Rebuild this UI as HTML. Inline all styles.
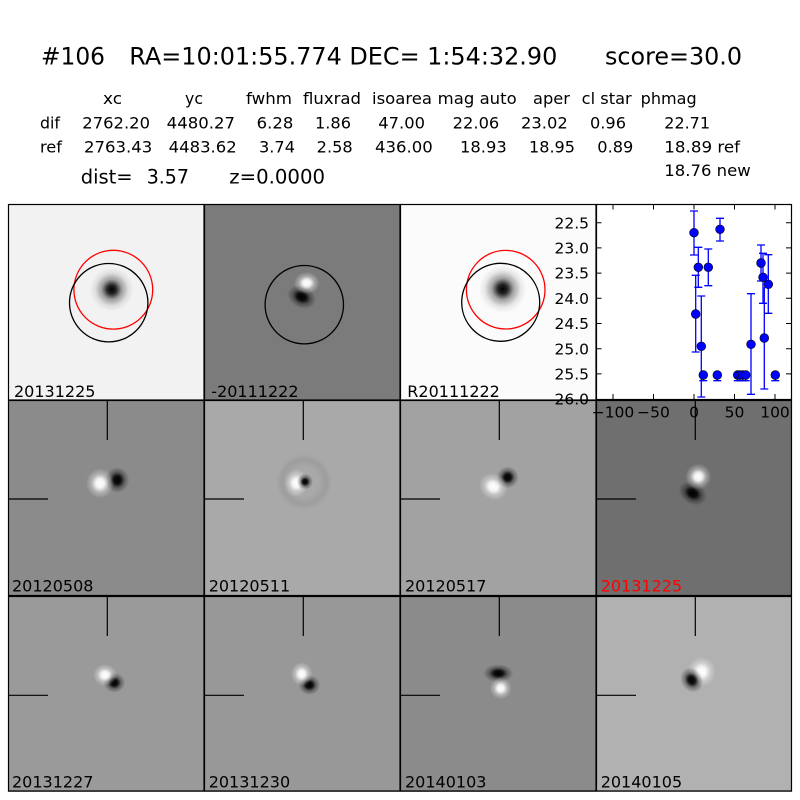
<!DOCTYPE html>
<html><head><meta charset="utf-8"><style>
html,body{margin:0;padding:0;background:#fff;}
svg{display:block;}
text{font-family:"DejaVu Sans","Liberation Sans",sans-serif;fill:#000;}
</style></head><body>
<svg width="800" height="800" viewBox="0 0 800 800" xmlns="http://www.w3.org/2000/svg">
<defs>
<radialGradient id="dk"><stop offset="0" stop-color="#000" stop-opacity="1"/><stop offset="0.3" stop-color="#000" stop-opacity="0.9"/><stop offset="0.6" stop-color="#000" stop-opacity="0.35"/><stop offset="1" stop-color="#000" stop-opacity="0"/></radialGradient>
<radialGradient id="wh"><stop offset="0" stop-color="#fff" stop-opacity="1"/><stop offset="0.3" stop-color="#fff" stop-opacity="0.9"/><stop offset="0.6" stop-color="#fff" stop-opacity="0.35"/><stop offset="1" stop-color="#fff" stop-opacity="0"/></radialGradient>
<radialGradient id="star"><stop offset="0" stop-color="#000" stop-opacity="1"/><stop offset="0.2" stop-color="#000" stop-opacity="0.85"/><stop offset="0.45" stop-color="#000" stop-opacity="0.35"/><stop offset="0.75" stop-color="#000" stop-opacity="0.08"/><stop offset="1" stop-color="#000" stop-opacity="0"/></radialGradient>
<radialGradient id="halo"><stop offset="0.5" stop-color="#000" stop-opacity="0"/><stop offset="0.8" stop-color="#000" stop-opacity="0.07"/><stop offset="1" stop-color="#000" stop-opacity="0"/></radialGradient>
</defs>
<rect width="800" height="800" fill="#fff"/>

<!-- Title -->
<text x="41" y="64.5" font-size="24" textLength="64" lengthAdjust="spacingAndGlyphs">#106</text>
<text x="129.3" y="64.5" font-size="24" textLength="428" lengthAdjust="spacingAndGlyphs">RA=10:01:55.774 DEC= 1:54:32.90</text>
<text x="605" y="64.5" font-size="24" textLength="137" lengthAdjust="spacingAndGlyphs">score=30.0</text>

<!-- Header row -->
<g font-size="16">
<text x="103" y="104" textLength="19" lengthAdjust="spacingAndGlyphs">xc</text>
<text x="185" y="104" textLength="18" lengthAdjust="spacingAndGlyphs">yc</text>
<text x="246" y="104" textLength="46" lengthAdjust="spacingAndGlyphs">fwhm</text>
<text x="303" y="104" textLength="58" lengthAdjust="spacingAndGlyphs">fluxrad</text>
<text x="372" y="104" textLength="60" lengthAdjust="spacingAndGlyphs">isoarea</text>
<text x="437.7" y="104" textLength="79" lengthAdjust="spacingAndGlyphs">mag auto</text>
<text x="533" y="104" textLength="37" lengthAdjust="spacingAndGlyphs">aper</text>
<text x="581.7" y="104" textLength="50" lengthAdjust="spacingAndGlyphs">cl star</text>
<text x="640.7" y="104" textLength="56" lengthAdjust="spacingAndGlyphs">phmag</text>

<text x="40" y="128.3" textLength="20" lengthAdjust="spacingAndGlyphs">dif</text>
<text x="82.3" y="128.3" textLength="67.7" lengthAdjust="spacingAndGlyphs">2762.20</text>
<text x="166.7" y="128.3" textLength="68.3" lengthAdjust="spacingAndGlyphs">4480.27</text>
<text x="256.7" y="128.3" textLength="36.6" lengthAdjust="spacingAndGlyphs">6.28</text>
<text x="315" y="128.3" textLength="36" lengthAdjust="spacingAndGlyphs">1.86</text>
<text x="378.3" y="128.3" textLength="46.7" lengthAdjust="spacingAndGlyphs">47.00</text>
<text x="452.7" y="128.3" textLength="46.6" lengthAdjust="spacingAndGlyphs">22.06</text>
<text x="521" y="128.3" textLength="46.7" lengthAdjust="spacingAndGlyphs">23.02</text>
<text x="590" y="128.3" textLength="36" lengthAdjust="spacingAndGlyphs">0.96</text>
<text x="664.3" y="128.3" textLength="45.7" lengthAdjust="spacingAndGlyphs">22.71</text>

<text x="40" y="152.3" textLength="22" lengthAdjust="spacingAndGlyphs">ref</text>
<text x="84" y="152.3" textLength="68.3" lengthAdjust="spacingAndGlyphs">2763.43</text>
<text x="168.7" y="152.3" textLength="68" lengthAdjust="spacingAndGlyphs">4483.62</text>
<text x="259" y="152.3" textLength="36" lengthAdjust="spacingAndGlyphs">3.74</text>
<text x="316.7" y="152.3" textLength="36" lengthAdjust="spacingAndGlyphs">2.58</text>
<text x="375" y="152.3" textLength="57.7" lengthAdjust="spacingAndGlyphs">436.00</text>
<text x="460" y="152.3" textLength="46.7" lengthAdjust="spacingAndGlyphs">18.93</text>
<text x="529" y="152.3" textLength="46" lengthAdjust="spacingAndGlyphs">18.95</text>
<text x="597.3" y="152.3" textLength="36" lengthAdjust="spacingAndGlyphs">0.89</text>
<text x="664.3" y="152.3" textLength="75.7" lengthAdjust="spacingAndGlyphs">18.89 ref</text>
<text x="664.3" y="176" textLength="86.4" lengthAdjust="spacingAndGlyphs">18.76 new</text>
</g>
<text x="80.7" y="183.5" font-size="19.5">dist=</text>
<text x="146.7" y="183.5" font-size="19.5" textLength="42.3" lengthAdjust="spacingAndGlyphs">3.57</text>
<text x="229.3" y="183.5" font-size="19.5" textLength="95.7" lengthAdjust="spacingAndGlyphs">z=0.0000</text>

<!-- ===== Row 1 ===== -->
<rect x="8" y="204" width="196" height="196" fill="#f2f2f2"/>
<ellipse cx="111.7" cy="289.5" rx="22" ry="22" fill="url(#star)"/>
<circle cx="113.3" cy="289.7" r="39.4" fill="none" stroke="#f00" stroke-width="1.3"/>
<circle cx="108.7" cy="302.7" r="39.2" fill="none" stroke="#000" stroke-width="1.3"/>
<text x="14" y="397" font-size="16">20131225</text>

<rect x="204" y="204" width="196" height="196" fill="#7b7b7b"/>
<ellipse cx="301.7" cy="297" rx="15" ry="11" fill="url(#dk)" transform="rotate(25 301.7 297)"/>
<ellipse cx="306.7" cy="283" rx="13" ry="11" fill="url(#wh)"/>
<circle cx="304.3" cy="304.7" r="39.2" fill="none" stroke="#000" stroke-width="1.3"/>
<text x="211.3" y="397" font-size="16">-20111222</text>

<rect x="400" y="204" width="196" height="196" fill="#fbfbfb"/>
<ellipse cx="502.7" cy="289" rx="24" ry="24" fill="url(#star)"/>
<circle cx="505.7" cy="289.7" r="39.3" fill="none" stroke="#f00" stroke-width="1.3"/>
<circle cx="500.7" cy="302.3" r="39" fill="none" stroke="#000" stroke-width="1.3"/>
<text x="407.3" y="397" font-size="16">R20111222</text>

<!-- ===== Row 2 ===== -->
<rect x="8" y="400" width="196" height="196" fill="#8b8b8b"/>
<ellipse cx="117.3" cy="480" rx="12" ry="13" fill="url(#dk)"/>
<ellipse cx="100" cy="483.3" rx="14" ry="15" fill="url(#wh)"/>
<text x="12" y="591.7" font-size="16">20120508</text>

<rect x="204" y="400" width="196" height="196" fill="#a9a9a9"/>
<circle cx="304" cy="482" r="28" fill="url(#halo)"/>
<ellipse cx="296.3" cy="483" rx="12" ry="14" fill="url(#wh)"/>
<ellipse cx="305" cy="481.7" rx="8" ry="8" fill="url(#dk)"/>
<text x="208.7" y="591.7" font-size="16">20120511</text>

<rect x="400" y="400" width="196" height="196" fill="#a2a2a2"/>
<ellipse cx="507.7" cy="477.3" rx="11" ry="11" fill="url(#dk)"/>
<ellipse cx="493.3" cy="486.7" rx="15" ry="13" fill="url(#wh)" transform="rotate(35 493.3 486.7)"/>
<text x="405" y="591.7" font-size="16">20120517</text>

<rect x="596" y="400" width="196" height="196" fill="#6f6f6f"/>
<ellipse cx="692.7" cy="493.3" rx="15" ry="11" fill="url(#dk)" transform="rotate(30 692.7 493.3)"/>
<ellipse cx="698.3" cy="476.7" rx="13" ry="13" fill="url(#wh)"/>
<text x="600.7" y="591.7" font-size="16" style="fill:#f00">20131225</text>

<!-- ===== Row 3 ===== -->
<rect x="8" y="596" width="196" height="196" fill="#9a9a9a"/>
<ellipse cx="114.3" cy="682.7" rx="11" ry="10" fill="url(#dk)"/>
<ellipse cx="105" cy="675" rx="12" ry="11" fill="url(#wh)"/>
<text x="12" y="787.5" font-size="16">20131227</text>

<rect x="204" y="596" width="196" height="196" fill="#989898"/>
<ellipse cx="309.3" cy="685" rx="11" ry="10" fill="url(#dk)"/>
<ellipse cx="301.7" cy="674" rx="11" ry="12" fill="url(#wh)"/>
<text x="208.7" y="787.5" font-size="16">20131230</text>

<rect x="400" y="596" width="196" height="196" fill="#8b8b8b"/>
<ellipse cx="498.3" cy="673.3" rx="15" ry="9" fill="url(#dk)"/>
<ellipse cx="500.7" cy="688.3" rx="11" ry="11" fill="url(#wh)"/>
<text x="405" y="787.5" font-size="16">20140103</text>

<rect x="596" y="596" width="196" height="196" fill="#b1b1b1"/>
<ellipse cx="701.7" cy="671.7" rx="14" ry="15" fill="url(#wh)"/>
<ellipse cx="691.7" cy="680" rx="11" ry="13" fill="url(#dk)" transform="rotate(-30 691.7 680)"/>
<text x="600.7" y="787.5" font-size="16">20140105</text>

<!-- crosshairs -->
<g stroke="#000" stroke-width="1.2">
<line x1="107.3" y1="400" x2="107.3" y2="440"/><line x1="8" y1="499" x2="48" y2="499"/>
<line x1="303.3" y1="400" x2="303.3" y2="440"/><line x1="204" y1="499" x2="244" y2="499"/>
<line x1="499.3" y1="400" x2="499.3" y2="440"/><line x1="400" y1="499" x2="440" y2="499"/>
<line x1="695.3" y1="400" x2="695.3" y2="440"/><line x1="596" y1="499" x2="636" y2="499"/>
<line x1="107.3" y1="596" x2="107.3" y2="636"/><line x1="8" y1="695.3" x2="48" y2="695.3"/>
<line x1="303.3" y1="596" x2="303.3" y2="636"/><line x1="204" y1="695.3" x2="244" y2="695.3"/>
<line x1="499.3" y1="596" x2="499.3" y2="636"/><line x1="400" y1="695.3" x2="440" y2="695.3"/>
<line x1="695.3" y1="596" x2="695.3" y2="636"/><line x1="596" y1="695.3" x2="636" y2="695.3"/>
</g>

<!-- panel borders -->
<g fill="none" stroke="#000" stroke-width="1.2">
<rect x="8.5" y="204.5" width="195.5" height="195.5"/>
<rect x="204.5" y="204.5" width="195.5" height="195.5"/>
<rect x="400.5" y="204.5" width="195.5" height="195.5"/>
<rect x="8.5" y="400.5" width="195.5" height="195"/>
<rect x="204.5" y="400.5" width="195.5" height="195"/>
<rect x="400.5" y="400.5" width="195.5" height="195"/>
<rect x="596.5" y="400.5" width="195" height="195"/>
<rect x="8.5" y="596.5" width="195.5" height="194.5"/>
<rect x="204.5" y="596.5" width="195.5" height="194.5"/>
<rect x="400.5" y="596.5" width="195.5" height="194.5"/>
<rect x="596.5" y="596.5" width="195" height="194.5"/>
</g>

<!-- ===== Light-curve plot ===== -->
<rect x="596" y="204" width="196" height="195.5" fill="#fff"/>
<g stroke="#00f" stroke-width="1.3" fill="none">
<path d="M694 211V255M690 211H698M690 255H698"/>
<path d="M720 218.3V241M716 218.3H724M716 241H724"/>
<path d="M698.3 247.3V287.3M694.3 247.3H702.3M694.3 287.3H702.3"/>
<path d="M708.3 249V285.7M704.3 249H712.3M704.3 285.7H712.3"/>
<path d="M695.7 275.3V352M691.7 275.3H699.7M691.7 352H699.7"/>
<path d="M701.3 296V397M697.3 296H705.3M697.3 397H705.3"/>
<path d="M703.3 372V380.7M699.3 380.7H707.3"/>
<path d="M717.3 372V380.7M713.3 380.7H721.3"/>
<path d="M737.7 372V380.7M733.7 380.7H741.7"/>
<path d="M740 372V380.7M736 380.7H744"/>
<path d="M742.7 372V380.7M738.7 380.7H746.7"/>
<path d="M745.7 372V380.7M741.7 380.7H749.7"/>
<path d="M751 293.7V394.3M747 293.7H755M747 394.3H755"/>
<path d="M761 245V281M757 245H765M757 281H765"/>
<path d="M763 253.3V303.3M759 253.3H767M759 303.3H767"/>
<path d="M764.3 287V389M760.3 389H768.3"/>
<path d="M768.3 254.7V313.3M764.3 254.7H772.3M764.3 313.3H772.3"/>
<path d="M775.3 372V380.7M771.3 380.7H779.3"/>
</g>
<g fill="#00f" stroke="#000" stroke-width="0.6">
<circle cx="694" cy="232.7" r="4.4"/>
<circle cx="720" cy="229.3" r="4.4"/>
<circle cx="698.3" cy="267.3" r="4.4"/>
<circle cx="708.3" cy="267.3" r="4.4"/>
<circle cx="695.7" cy="314" r="4.4"/>
<circle cx="701.3" cy="346.3" r="4.4"/>
<circle cx="703.3" cy="375" r="4.4"/>
<circle cx="717.3" cy="375" r="4.4"/>
<circle cx="737.7" cy="375" r="4.4"/>
<circle cx="740" cy="375" r="4.4"/>
<circle cx="742.7" cy="375" r="4.4"/>
<circle cx="745.7" cy="375" r="4.4"/>
<circle cx="751" cy="344.3" r="4.4"/>
<circle cx="761" cy="263" r="4.4"/>
<circle cx="763" cy="277.3" r="4.4"/>
<circle cx="764.3" cy="338" r="4.4"/>
<circle cx="768.3" cy="284.3" r="4.4"/>
<circle cx="775.3" cy="375" r="4.4"/>
</g>
<g stroke="#000" stroke-width="1">
<path d="M613 204v5.5M653.5 204v5.5M694 204v5.5M734.5 204v5.5M775 204v5.5"/>
<path d="M613 399.5v-5.5M653.5 399.5v-5.5M694 399.5v-5.5M734.5 399.5v-5.5M775 399.5v-5.5"/>
<path d="M596 222.7h5.5M596 247.9h5.5M596 273.1h5.5M596 298.3h5.5M596 323.5h5.5M596 348.7h5.5M596 373.9h5.5"/>
<path d="M791.5 222.7h-5.5M791.5 247.9h-5.5M791.5 273.1h-5.5M791.5 298.3h-5.5M791.5 323.5h-5.5M791.5 348.7h-5.5M791.5 373.9h-5.5"/>
</g>
<rect x="596.5" y="204.5" width="195" height="195" fill="none" stroke="#000" stroke-width="1.2"/>
<g font-size="15.5" text-anchor="end">
<text x="589" y="228.3">22.5</text>
<text x="589" y="253.5">23.0</text>
<text x="589" y="278.7">23.5</text>
<text x="589" y="303.9">24.0</text>
<text x="589" y="329.1">24.5</text>
<text x="589" y="354.3">25.0</text>
<text x="589" y="379.5">25.5</text>
<text x="589" y="404.7">26.0</text>
</g>
<g font-size="15.5" text-anchor="middle">
<text x="613" y="417.5">−100</text>
<text x="653.5" y="417.5">−50</text>
<text x="694" y="417.5">0</text>
<text x="734.5" y="417.5">50</text>
<text x="775" y="417.5">100</text>
</g>
</svg>
</body></html>
